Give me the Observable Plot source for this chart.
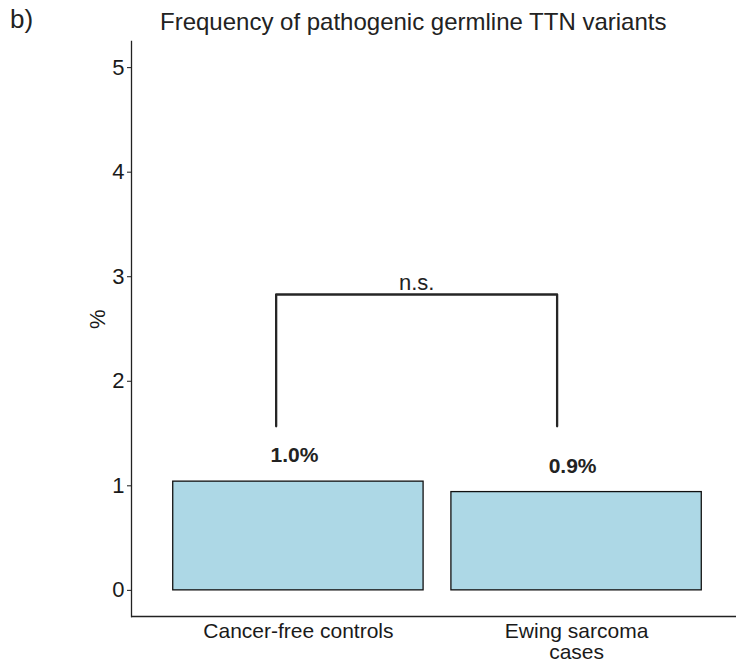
<!DOCTYPE html>
<html>
<head>
<meta charset="utf-8">
<script src="https://cdn.jsdelivr.net/npm/d3@7"></script>
<script src="https://cdn.jsdelivr.net/npm/@observablehq/plot@0.6"></script>
<style>
  body { margin: 0; background: #fff; font-family: "Liberation Sans", Arial, sans-serif; color: #222; overflow: hidden; }
  #header { position: relative; height: 40px; width: 736px; }
  #panel { position: absolute; left: 10px; top: 6px; font-size: 26px; line-height: 1; }
  #title { position: absolute; left: 160px; top: 10px; font-size: 24px; line-height: 1; white-space: nowrap; }
</style>
</head>
<body>
<div id="header"><span id="panel">b)</span><span id="title">Frequency of pathogenic germline TTN variants</span></div>
<div id="chart"></div>
<script>
// Data
const categories = ["Cancer-free controls", "Ewing sarcoma\ncases"];
const values = [1.04, 0.94];            // % with pathogenic germline TTN variants
const valueLabels = ["1.0%", "0.9%"];
const yTicks = [0, 1, 2, 3, 4, 5];
const sigLabel = "n.s.";
const bracketX = [0.92, 1.93];           // bracket ends (category units)
const bracketTop = 2.83;
const bracketTip = 1.57;

const rows = categories.map((c, i) => ({cat: c, pos: i + 1, value: values[i], label: valueLabels[i]}));
const bracket = [
  {x: bracketX[0], y: bracketTip},
  {x: bracketX[0], y: bracketTop},
  {x: bracketX[1], y: bracketTop},
  {x: bracketX[1], y: bracketTip}
];

const chart = Plot.plot({
  width: 736,
  height: 625,
  marginTop: 1,
  marginBottom: 49,
  marginLeft: 131,
  marginRight: 0,
  style: {fontFamily: "'Liberation Sans', Arial, sans-serif", color: "#1a1a1a", background: "#fff", overflow: "visible"},
  x: {domain: [0.4, 2.6], range: [131, 743]},
  y: {domain: [-0.25, 5.25]},
  marks: [
    Plot.rect(rows, {x1: d => d.pos - 0.45, x2: d => d.pos + 0.45, y1: 0, y2: "value", fill: "#ADD8E6", stroke: "#111", strokeWidth: 1.3}),
    Plot.text(rows, {x: "pos", y: "value", text: "label", dx: -4, dy: -26, fontSize: 21, fontWeight: "bold", fill: "#222"}),
    Plot.line(bracket, {x: "x", y: "y", stroke: "#262626", strokeWidth: 2.3}),
    Plot.text([sigLabel], {x: (bracketX[0] + bracketX[1]) / 2, y: bracketTop, dy: -12, fontSize: 22, fill: "#222"}),
    Plot.frame({anchor: "left", stroke: "#222", strokeWidth: 1.3}),
    Plot.ruleY([-0.25], {stroke: "#222", strokeWidth: 1.3}),
    Plot.axisY({ticks: yTicks, tickSize: 4, tickPadding: 3, fontSize: 22, label: null, tickFormat: d => String(d)}),
    Plot.axisX({ticks: rows.map(r => r.pos), tickFormat: (d) => categories[d - 1], tickSize: 0, tickPadding: 7, fontSize: 21, lineHeight: 1.0, label: null}),
    Plot.text(["%"], {frameAnchor: "left", dx: -34, rotate: -90, fontSize: 22, fill: "#1a1a1a"})
  ]
});
document.getElementById("chart").appendChild(chart);
</script>
</body>
</html>
